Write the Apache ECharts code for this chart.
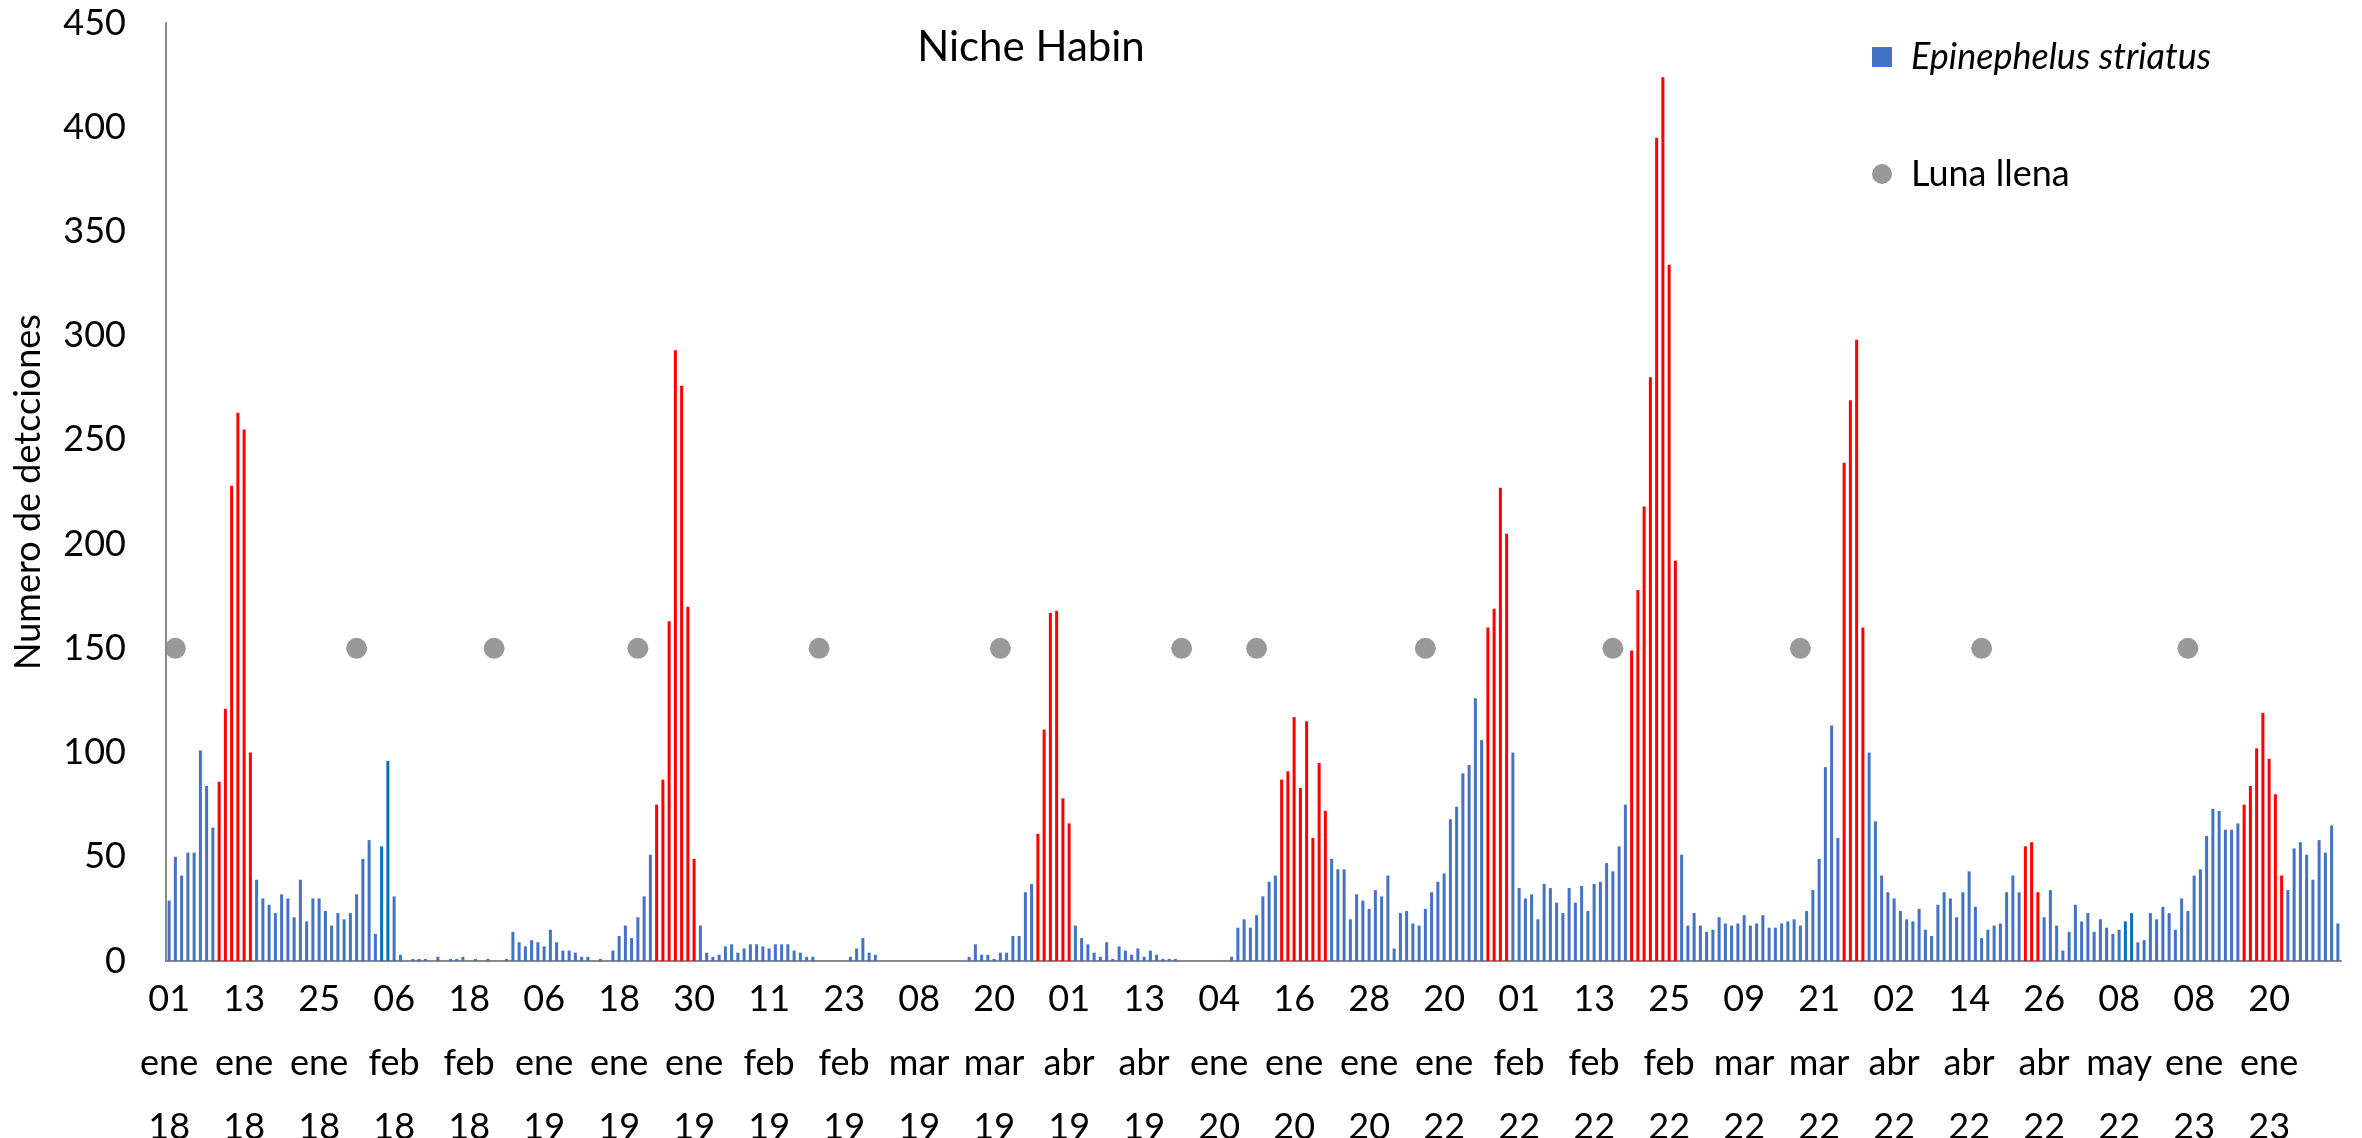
<!DOCTYPE html>
<html><head><meta charset="utf-8">
<script src="https://cdn.jsdelivr.net/npm/echarts@6/dist/echarts.min.js"></script>
<style>html,body{margin:0;padding:0;background:#fff}#c{width:2362px;height:1138px}</style>
</head><body><div id="c"></div>
<script>
// Daily series: [first day, number of days] of each recording period
const periods = [
  ['2018-01-01', 55],
  ['2019-01-01', 59],
  ['2019-03-02', 51],
  ['2020-01-01', 32],
  ['2022-01-13', 120],
  ['2023-01-01', 31]
];
const monthNames = ['ene','feb','mar','abr','may','jun','jul','ago','sep','oct','nov','dic'];

// Numero de detecciones per day (one row = 12 days)
const detections = [
  29,50,41,52,52,101,84,64,86,121,228,263,
  255,100,39,30,27,23,32,30,21,39,19,30,
  30,24,17,23,20,23,32,49,58,13,55,96,
  31,3,0,1,1,1,0,2,0,1,1,2,
  0,1,0,1,0,0,1,14,9,7,10,9,
  7,15,9,5,5,4,2,2,0,1,0,5,
  12,17,11,21,31,51,75,87,163,293,276,170,
  49,17,4,2,3,7,8,4,6,8,8,7,
  6,8,8,8,5,4,2,2,0,0,0,0,
  0,2,6,11,4,3,0,0,0,0,0,0,
  0,0,0,0,0,0,0,0,2,8,3,3,
  1,4,4,12,12,33,37,61,111,167,168,78,
  66,17,11,8,4,2,9,1,7,5,3,6,
  2,5,3,1,1,1,0,0,0,0,0,0,
  0,0,2,16,20,16,22,31,38,41,87,91,
  117,83,115,59,95,72,49,44,44,20,32,29,
  25,34,31,41,6,23,24,18,17,25,33,38,
  42,68,74,90,94,126,106,160,169,227,205,100,
  35,30,32,20,37,35,28,23,35,28,36,24,
  37,38,47,43,55,75,149,178,218,280,395,424,
  334,192,51,17,23,17,14,15,21,18,17,18,
  22,17,18,22,16,16,18,19,20,17,24,34,
  49,93,113,59,239,269,298,160,100,67,41,33,
  30,24,20,19,25,15,12,27,33,30,21,33,
  43,26,11,15,17,18,33,41,33,55,57,33,
  21,34,17,5,14,27,19,23,14,20,16,13,
  15,19,23,9,10,23,20,26,23,15,30,24,
  41,44,60,73,72,63,63,66,75,84,102,119,
  97,80,41,34,54,57,51,39,58,52,65,18
];

// Days highlighted in red (spawning peaks)
const peakDays = [8,9,10,11,12,13, 78,79,80,81,82,83,84, 139,140,141,142,143,144,
  178,179,180,181,182,183,184,185, 211,212,213,214, 234,235,236,237,238,239,240,241,
  268,269,270,271, 297,298,299, 332,333,334,335,336,337,338];
// Days drawn in a darker blue
const darkDays = [34,35,313,314];

// Full moon markers
const fullMoonDays = ['02 ene 18','31 ene 18','22 feb 18','21 ene 19','19 feb 19','21 mar 19',
  '19 abr 19','10 ene 20','17 ene 22','16 feb 22','18 mar 22','16 abr 22','07 ene 23'];
const fullMoonLevel = 150;

const yMin = 0, yMax = 450, yStep = 50;

function pad(n){return (n<10?'0':'')+n;}
function buildCategories(){
  const out = [];
  periods.forEach(([start, n]) => {
    const p = start.split('-').map(Number);
    for (let k = 0; k < n; k++) {
      const d = new Date(Date.UTC(p[0], p[1]-1, p[2] + k));
      out.push(pad(d.getUTCDate()) + ' ' + monthNames[d.getUTCMonth()] + ' ' + String(d.getUTCFullYear()).slice(2));
    }
  });
  return out;
}
const categories = buildCategories();

const barData = detections.map((v, i) => {
  if (peakDays.indexOf(i) >= 0) return {value: v, itemStyle: {color: '#FF0000'}};
  if (darkDays.indexOf(i) >= 0) return {value: v, itemStyle: {color: '#0070C0'}};
  return v;
});
const moonData = fullMoonDays.map(d => [d, fullMoonLevel]);

const FONT = 'Lato';
const chart = echarts.init(document.getElementById('c'), null, {renderer: 'canvas'});
chart.setOption({
  animation: false,
  backgroundColor: '#ffffff',
  title: {
    text: 'Niche Habin', left: 1026, top: 21, textAlign: 'center',
    textStyle: {fontFamily: FONT, fontSize: 42, fontWeight: 'normal', color: '#000'}
  },
  legend: {
    orient: 'vertical', left: 1867, top: 32, itemWidth: 20, itemHeight: 20, itemGap: 77,
    data: [{name: 'Epinephelus striatus', icon: 'rect'}, {name: 'Luna llena', icon: 'circle'}],
    formatter: n => n === 'Epinephelus striatus' ? '{it|' + n + '}' : '{n|' + n + '}',
    textStyle: {
      fontFamily: FONT, fontSize: 36, color: '#000', lineHeight: 40,
      rich: {
        it: {fontFamily: FONT, fontSize: 36, fontStyle: 'italic', color: '#000', padding: [0,0,0,14]},
        n: {fontFamily: FONT, fontSize: 36, color: '#000', padding: [0,0,0,14]}
      }
    }
  },
  grid: {left: 166, right: 21, top: 23, bottom: 177, containLabel: false, outerBoundsMode: 'none'},
  xAxis: {
    type: 'category', data: categories, boundaryGap: true,
    axisLine: {lineStyle: {color: '#898989', width: 2}},
    axisTick: {show: false},
    axisLabel: {
      interval: 11, fontFamily: FONT, fontSize: 36, lineHeight: 64, color: '#000', margin: 6,
      formatter: v => v.split(' ').join('\n')
    },
    splitLine: {show: false}
  },
  yAxis: {
    type: 'value', min: yMin, max: yMax, interval: yStep,
    name: 'Numero de detcciones', nameLocation: 'middle', nameGap: 120, nameRotate: 90,
    nameTextStyle: {fontFamily: FONT, fontSize: 36, color: '#000'},
    axisLine: {show: true, lineStyle: {color: '#898989', width: 2}},
    axisTick: {show: false},
    axisLabel: {fontFamily: FONT, fontSize: 36, color: '#000', margin: 40},
    splitLine: {show: false}
  },
  series: [
    {
      name: 'Epinephelus striatus', type: 'bar', data: barData, barWidth: 3,
      itemStyle: {color: '#4472C4'}
    },
    {
      name: 'Luna llena', type: 'scatter', data: moonData, symbol: 'circle', symbolSize: 21,
      itemStyle: {color: '#808080'}, z: 5
    }
  ]
});
</script></body></html>
